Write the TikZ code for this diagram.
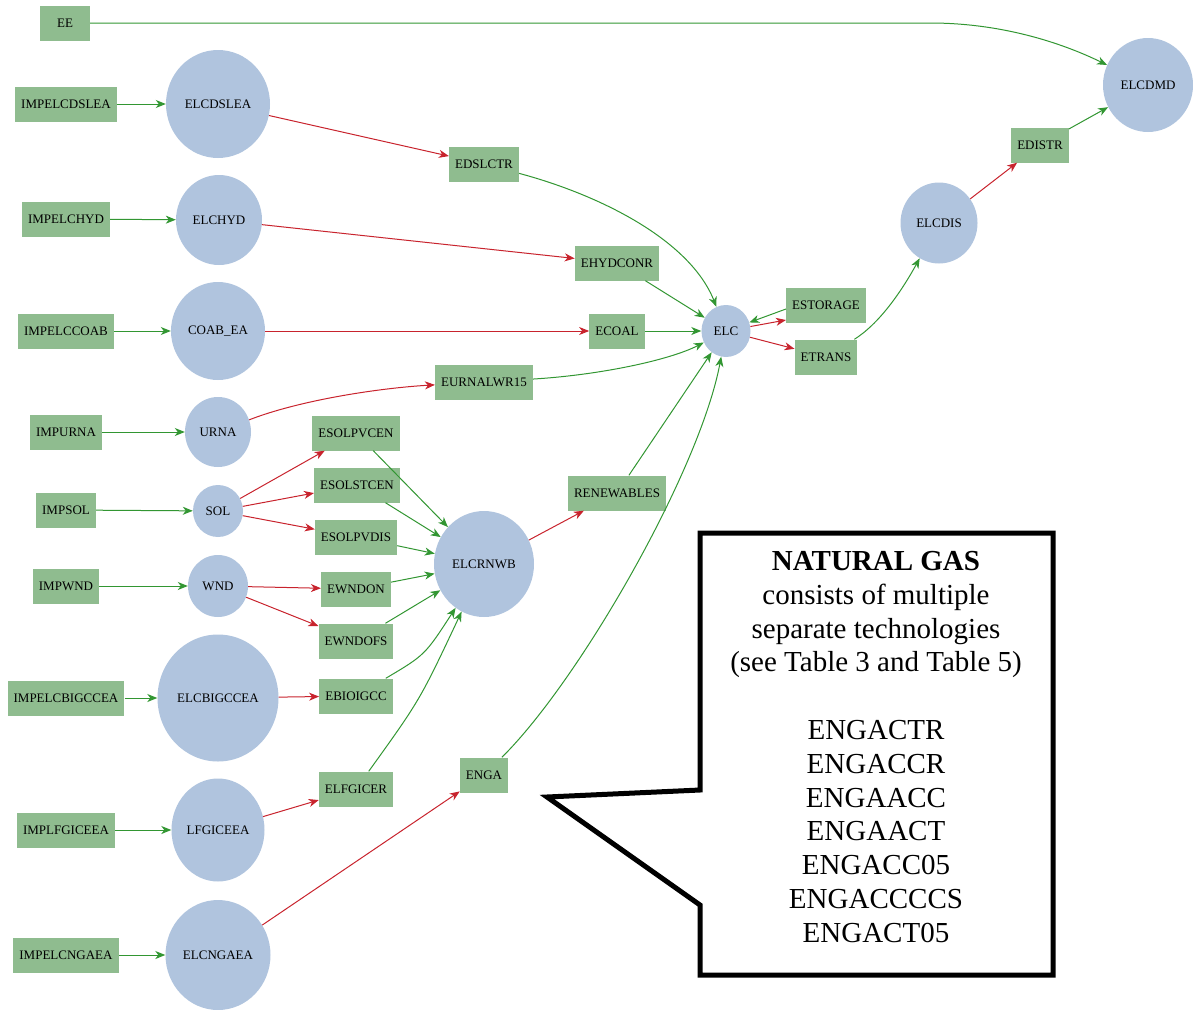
\documentclass[tikz,border=0pt]{standalone}
\usepackage{fontspec}
\setmainfont{Liberation Serif}
\usetikzlibrary{arrows.meta,calc,shapes.geometric}
\definecolor{boxg}{RGB}{143,188,143}
\definecolor{circb}{RGB}{176,196,222}
\definecolor{eg}{RGB}{50,150,50}
\definecolor{er}{RGB}{200,35,45}
\begin{document}
\begin{tikzpicture}[x=1pt,y=-1pt,
  bx/.style={rectangle, fill=boxg, draw=none, minimum height=35pt, inner xsep=6pt, inner ysep=0pt, font=\fontsize{13}{15}\selectfont},
  cn/.style 2 args={ellipse, fill=circb, draw=none, inner sep=0pt, minimum width=#1, minimum height=#2, font=\fontsize{13}{15}\selectfont},
  ge/.style={draw=eg, line width=1pt, -{Stealth[length=10pt,width=8pt,inset=3pt]}},
  re/.style={draw=er, line width=1pt, -{Stealth[length=10pt,width=8pt,inset=3pt]}},
  callout/.style={draw=black, fill=white, line width=5pt, line join=miter}]
\useasboundingbox (0,0) rectangle (1193,1009);

% left column boxes
\node[bx, minimum width=50pt] (EE) at (65,23) {EE};
\node[bx] (IMPELCDSLEA) at (66,104) {IMPELCDSLEA};
\node[bx] (IMPELCHYD) at (66,219) {IMPELCHYD};
\node[bx] (IMPELCCOAB) at (66,331) {IMPELCCOAB};
\node[bx] (IMPURNA) at (66,432) {IMPURNA};
\node[bx] (IMPSOL) at (66,510) {IMPSOL};
\node[bx] (IMPWND) at (66,586) {IMPWND};
\node[bx] (IMPELCBIGCCEA) at (66,698) {IMPELCBIGCCEA};
\node[bx] (IMPLFGICEEA) at (66,830) {IMPLFGICEEA};
\node[bx] (IMPELCNGAEA) at (66,955) {IMPELCNGAEA};

% circles
\node[cn={104pt}{108pt}] (ELCDSLEA) at (218,104) {ELCDSLEA};
\node[cn={86pt}{90pt}] (ELCHYD) at (219,220) {ELCHYD};
\node[cn={94pt}{98pt}] (COAB) at (218,331) {COAB\_EA};
\node[cn={66pt}{70pt}] (URNA) at (218,432) {URNA};
\node[cn={50pt}{52pt}] (SOL) at (218,511) {SOL};
\node[cn={60pt}{62pt}] (WND) at (218,586) {WND};
\node[cn={121pt}{127pt}] (ELCBIGCCEA) at (218,698) {ELCBIGCCEA};
\node[cn={93pt}{103pt}] (LFGICEEA) at (218,830) {LFGICEEA};
\node[cn={105pt}{110pt}] (ELCNGAEA) at (218,955) {ELCNGAEA};
\node[cn={100pt}{106pt}] (ELCRNWB) at (484,564) {ELCRNWB};
\node[cn={49pt}{52pt}] (ELC) at (726,331) {ELC};
\node[cn={77pt}{81pt}] (ELCDIS) at (939,223) {ELCDIS};
\node[cn={90pt}{94pt}] (ELCDMD) at (1148,85) {ELCDMD};

% middle boxes
\node[bx] (EDSLCTR) at (484,164) {EDSLCTR};
\node[bx] (EHYDCONR) at (617,263) {EHYDCONR};
\node[bx] (ECOAL) at (617,331) {ECOAL};
\node[bx] (EURNALWR15) at (484,382) {EURNALWR15};
\node[bx] (ESOLPVCEN) at (356,433) {ESOLPVCEN};
\node[bx] (ESOLSTCEN) at (357,485) {ESOLSTCEN};
\node[bx] (ESOLPVDIS) at (356,537) {ESOLPVDIS};
\node[bx] (EWNDON) at (356,589) {EWNDON};
\node[bx] (EWNDOFS) at (356,641) {EWNDOFS};
\node[bx] (EBIOIGCC) at (356,696) {EBIOIGCC};
\node[bx] (ELFGICER) at (356,789) {ELFGICER};
\node[bx] (ENGA) at (484,775) {ENGA};
\node[bx] (RENEWABLES) at (617,493) {RENEWABLES};
\node[bx] (ESTORAGE) at (826,305) {ESTORAGE};
\node[bx] (ETRANS) at (826,357) {ETRANS};
\node[bx] (EDISTR) at (1040,145) {EDISTR};

% import edges
\draw[ge] (IMPELCDSLEA) -- (ELCDSLEA);
\draw[ge] (IMPELCHYD) -- (ELCHYD);
\draw[ge] (IMPELCCOAB) -- (COAB);
\draw[ge] (IMPURNA) -- (URNA);
\draw[ge] (IMPSOL) -- (SOL);
\draw[ge] (IMPWND) -- (WND);
\draw[ge] (IMPELCBIGCCEA) -- (ELCBIGCCEA);
\draw[ge] (IMPLFGICEEA) -- (LFGICEEA);
\draw[ge] (IMPELCNGAEA) -- (ELCNGAEA);

% red edges
\draw[re] (ELCDSLEA) -- (EDSLCTR);
\draw[re] (ELCHYD) -- (EHYDCONR);
\draw[re] (COAB) -- (ECOAL);
\draw[re] (URNA) .. controls (300,400) and (380,388) .. (EURNALWR15);
\draw[re] (SOL) -- (ESOLPVCEN);
\draw[re] (SOL) -- (ESOLSTCEN);
\draw[re] (SOL) -- (ESOLPVDIS);
\draw[re] (WND) -- (EWNDON);
\draw[re] (WND) -- (EWNDOFS);
\draw[re] (ELCBIGCCEA) -- (EBIOIGCC);
\draw[re] (LFGICEEA) -- (ELFGICER);
\draw[re] (ELCNGAEA) -- (ENGA);
\draw[re] (ELCRNWB) -- (RENEWABLES);
\draw[re] (ELC) -- ($(ESTORAGE.west)+(0,15)$);
\draw[re] (ELC) -- (ETRANS);
\draw[re] (ELCDIS) -- (EDISTR);

% green edges
\draw[ge] (EE) -- (930,23) .. controls (1000,23) and (1060,42) .. (ELCDMD);
\draw[ge] (EDSLCTR) .. controls (600,195) and (690,240) .. (ELC);
\draw[ge] (EHYDCONR) -- (ELC);
\draw[ge] (ECOAL) -- (ELC);
\draw[ge] (EURNALWR15) .. controls (600,375) and (670,360) .. (ELC);
\draw[ge] (ESOLPVCEN) -- (ELCRNWB);
\draw[ge] (ESOLSTCEN) -- (ELCRNWB);
\draw[ge] (ESOLPVDIS) -- (ELCRNWB);
\draw[ge] (EWNDON) -- (ELCRNWB);
\draw[ge] (EWNDOFS) -- (ELCRNWB);
\draw[ge] (EBIOIGCC) .. controls (425,655) .. (ELCRNWB);
\draw[ge] (ELFGICER) .. controls (420,700) .. (ELCRNWB);
\draw[ge] (RENEWABLES) -- (ELC);
\draw[ge] (ENGA) .. controls (580,680) and (700,470) .. (ELC);
\draw[ge] ($(ESTORAGE.west)+(0,4)$) -- (ELC);
\draw[ge] (ETRANS) .. controls (882,322) and (905,285) .. (ELCDIS);
\draw[ge] (EDISTR) -- (ELCDMD);

% callout
\draw[callout] (700,533) -- (1053,533) -- (1053,975) -- (700,975) -- (700,905) -- (547,797) -- (700,790) -- cycle;
\node[align=center, font=\fontsize{29}{33.8}\selectfont, inner sep=0pt] (note) at (876,747)
  {\textbf{NATURAL GAS}\\ consists of multiple\\ separate technologies\\ (see Table 3 and Table 5)\\[33.8pt]
   ENGACTR\\ ENGACCR\\ ENGAACC\\ ENGAACT\\ ENGACC05\\ ENGACCCCS\\ ENGACT05};
\end{tikzpicture}
\end{document}
